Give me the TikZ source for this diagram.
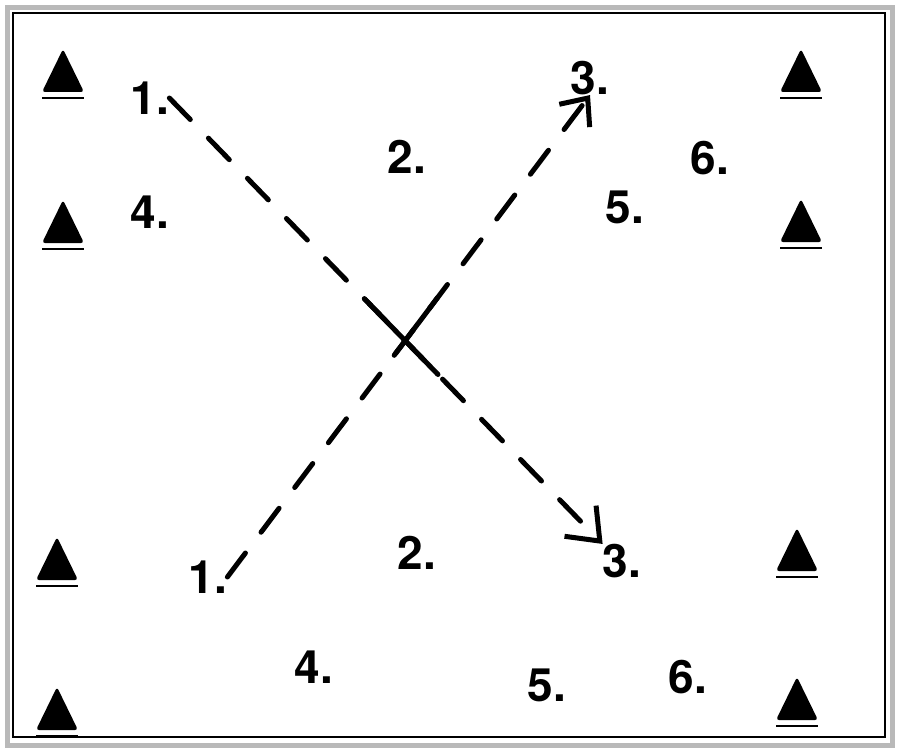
\documentclass[tikz,border=0pt]{standalone}
\usepackage{fontspec}
\setsansfont{TeX Gyre Heros}
\usetikzlibrary{arrows.meta,calc}
\begin{document}
\begin{tikzpicture}[x=1pt,y=-1pt]
\tikzset{num/.style={font=\sffamily\bfseries\fontsize{46}{46}\selectfont, inner sep=0pt},
  run/.style={line width=5pt, line cap=round, dash pattern=on 30pt off 26pt},
  cone/.pic={\fill[rounded corners=3pt] (-21,0) -- (0,-43) -- (21,0) -- cycle;
    \draw[line width=1.2pt] (-21,6) -- (21,6);}}
    \useasboundingbox (0,0) rectangle (900,752);
    \draw[gray!55, line width=5pt] (7.5,7.5) rectangle (892.5,745);
    \draw[line width=1.5pt] (13,13) rectangle (885,737);

    % cones
    \pic at (63,92) {cone};
    \pic at (63,243) {cone};
    \pic at (801,92) {cone};
    \pic at (801,242) {cone};
    \pic at (57,580) {cone};
    \pic at (57,730) {cone};
    \pic at (797,571) {cone};
    \pic at (797,720) {cone};

    \node[num] at (150,98) (t_1) {1.};
    \node[num] at (407,157) (t_2) {2.};
    \node[num] at (590,78) (t_3) {3.};
    \node[num] at (150,212) (t_4) {4.};
    \node[num] at (625,207) (t_5) {5.};
    \node[num] at (710,158) (t_6) {6.};

    \node[num] at (208,577) (b_1) {1.};
    \node[num] at (417,553) (b_2) {2.};
    \node[num] at (622,561) (b_3) {3.};
    \node[num] at (314,667) (b_4) {4.};
    \node[num] at (547,685) (b_5) {5.};
    \node[num] at (688,677) (b_6) {6.};

    \draw[run, -{Straight Barb[length=22pt,width=38pt]}] (b_1.east) -- (t_3.south);
    \draw[run, -{Straight Barb[length=28pt,width=44pt]}] (t_1.east) -- (b_3.north west);
    \draw[run, solid] ($(t_1.east)!.45!(b_3.north west)$) -- ($(t_1.east)!.62!(b_3.north west)$);
    \draw[run, solid] ($(b_1.east)!.46!(t_3.south)$) -- ($(b_1.east)!.58!(t_3.south)$);
\end{tikzpicture}
\end{document}
